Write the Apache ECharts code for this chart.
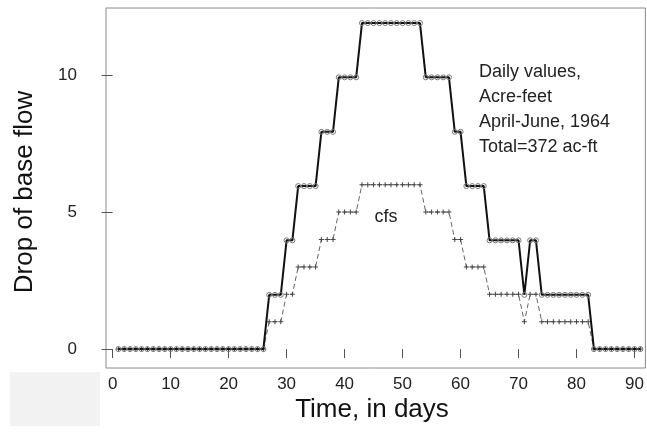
<!DOCTYPE html>
<html>
<head>
<meta charset="utf-8">
<script src="https://cdn.jsdelivr.net/npm/echarts@6/dist/echarts.min.js"></script>
<style>
html,body{margin:0;padding:0;background:#fff;}
#c{width:647px;height:433px;}
</style>
</head>
<body>
<div id="c"></div>
<script>
// Day of the April-June 1964 period (x values)
const days = [1,2,3,4,5,6,7,8,9,10,11,12,13,14,15,16,17,18,19,20,21,22,23,24,25,26,27,28,29,30,31,32,33,34,35,36,37,38,39,40,41,42,43,44,45,46,47,48,49,50,51,52,53,54,55,56,57,58,59,60,61,62,63,64,65,66,67,68,69,70,71,72,73,74,75,76,77,78,79,80,81,82,83,84,85,86,87,88,89,90,91];
// Drop of base flow, cubic feet per second (dashed, "+")
const cfs = [0,0,0,0,0,0,0,0,0,0,0,0,0,0,0,0,0,0,0,0,0,0,0,0,0,0,
  1,1,1, 2,2, 3,3,3,3, 4,4,4, 5,5,5,5, 6,6,6,6,6,6,6,6,6,6,6,
  5,5,5,5,5, 4,4, 3,3,3,3, 2,2,2,2,2,2, 1, 2,2, 1,1,1,1,1,1,1,1,1,
  0,0,0,0,0,0,0,0,0];
// Drop of base flow, acre-feet per day (solid, circles)
const acreFeet = [0,0,0,0,0,0,0,0,0,0,0,0,0,0,0,0,0,0,0,0,0,0,0,0,0,0,
  1.98,1.98,1.98, 3.97,3.97, 5.95,5.95,5.95,5.95, 7.93,7.93,7.93, 9.92,9.92,9.92,9.92,
  11.9,11.9,11.9,11.9,11.9,11.9,11.9,11.9,11.9,11.9,11.9,
  9.92,9.92,9.92,9.92,9.92, 7.93,7.93, 5.95,5.95,5.95,5.95, 3.97,3.97,3.97,3.97,3.97,3.97,
  1.98, 3.97,3.97, 1.98,1.98,1.98,1.98,1.98,1.98,1.98,1.98,1.98,
  0,0,0,0,0,0,0,0,0];
const xTicks = [0,10,20,30,40,50,60,70,80,90];
const yTicks = [0,5,10];
const noteLines = ['Daily values,', 'Acre-feet', 'April-June, 1964', 'Total=372 ac-ft'];
const cfsLabel = 'cfs';
const xTitle = 'Time, in days';
const yTitle = 'Drop of base flow';

const FONT = '"Liberation Sans", Arial, sans-serif';
const chart = echarts.init(document.getElementById('c'), null, {renderer: 'canvas'});

const plus = 'path://M4,0H6V4H10V6H6V10H4V6H0V4H4Z';

const graphics = [
  {type:'rect', left:10, top:372, shape:{width:90, height:54}, style:{fill:'#f2f2f2'}, z:-10},
  {type:'text', x:25, y:192, rotation:Math.PI/2,
   style:{text:yTitle, font:'26px ' + FONT, fill:'#111', textAlign:'center', textVerticalAlign:'middle'}},
  {type:'text', x:372, y:410,
   style:{text:xTitle, font:'26px ' + FONT, fill:'#111', textAlign:'center', textVerticalAlign:'middle'}},
  {type:'text', x:386, y:217,
   style:{text:cfsLabel, font:'18px ' + FONT, fill:'#222', textAlign:'center', textVerticalAlign:'middle'}}
];
const noteY = [72, 97, 122, 147];
noteLines.forEach((t, i) => {
  graphics.push({type:'text', x:479, y:noteY[i],
    style:{text:t, font:'18px ' + FONT, fill:'#222', textAlign:'left', textVerticalAlign:'middle'}});
});

chart.setOption({
  animation: false,
  backgroundColor: '#fff',
  grid: {left:106, right:1, top:8, bottom:65, show:true, borderColor:'#888', borderWidth:1, backgroundColor:'transparent'},
  xAxis: {
    type:'value', min:-1.14, max:91.87, offset:3,
    axisLine:{show:false},
    axisTick:{show:true, length:9, lineStyle:{color:'#555'}, customValues:xTicks},
    axisLabel:{customValues:xTicks, fontFamily:FONT, fontSize:17, color:'#222', margin:5},
    splitLine:{show:false}
  },
  yAxis: {
    type:'value', min:-0.69, max:12.45, offset:4,
    axisLine:{show:false},
    axisTick:{show:true, length:11, lineStyle:{color:'#555'}, customValues:yTicks},
    axisLabel:{customValues:yTicks, fontFamily:FONT, fontSize:17, color:'#222', margin:25},
    splitLine:{show:false}
  },
  series: [
    {
      name:'cfs', type:'line',
      data: days.map((d, i) => [d, cfs[i]]),
      showAllSymbol:true, symbol:plus, symbolSize:5,
      itemStyle:{color:'#444'},
      lineStyle:{color:'#666', width:1, type:[5,3]},
      z:2
    },
    {
      name:'acre-feet', type:'line',
      data: days.map((d, i) => [d, acreFeet[i]]),
      showAllSymbol:true, symbol:'circle', symbolSize:5,
      itemStyle:{color:'rgba(255,255,255,0)', borderColor:'#777', borderWidth:1},
      lineStyle:{color:'#111', width:2},
      z:3
    }
  ],
  graphic: graphics
});
</script>
</body>
</html>
